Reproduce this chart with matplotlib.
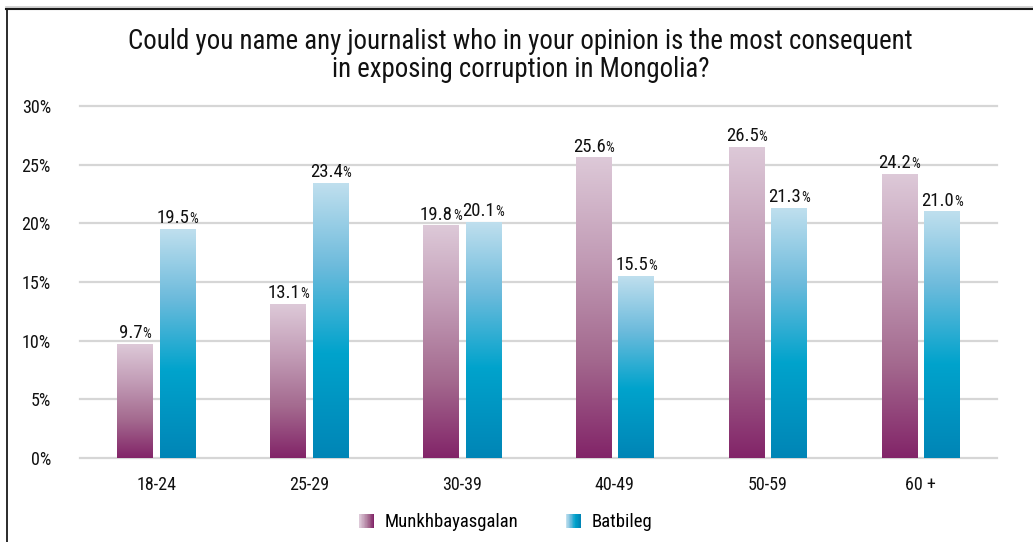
import numpy as np
import matplotlib
matplotlib.use("Agg")
import matplotlib.pyplot as plt
from matplotlib.colors import LinearSegmentedColormap
from matplotlib.patches import Rectangle
from matplotlib.lines import Line2D
from matplotlib.legend_handler import HandlerBase
from matplotlib.offsetbox import TextArea, HPacker, AnnotationBbox

plt.rcParams['font.family'] = ['Roboto Condensed', 'Archivo Narrow', 'DejaVu Sans']

# Data
age_groups = ["18-24", "25-29", "30-39", "40-49", "50-59", "60 +"]
munkhbayasgalan = [9.7, 13.1, 19.8, 25.6, 26.5, 24.2]
batbileg = [19.5, 23.4, 20.1, 15.5, 21.3, 21.0]
series_names = ["Munkhbayasgalan", "Batbileg"]
y_ticks = [0, 5, 10, 15, 20, 25, 30]
title = "Could you name any journalist who in your opinion is the most consequent\nin exposing corruption in Mongolia?"

# Vertical gradients (bottom -> top)
purple_cmap = LinearSegmentedColormap.from_list(
    "purple", ["#822468", "#a46a8f", "#c29cb6", "#ddc9d8"])
blue_cmap = LinearSegmentedColormap.from_list(
    "blue", [(0.0, "#0085b6"), (0.38, "#00a3cc"), (0.7, "#6dbbdc"), (1.0, "#bfdfee")])

fig = plt.figure(figsize=(10.33, 5.42), dpi=100)
ax = fig.add_axes([0.0774, 0.155, 0.8877, 0.6494])

x = np.arange(len(age_groups))
width = 0.232
offset = 0.139

grad = np.linspace(0, 1, 256).reshape(-1, 1)


def gradient_bars(positions, values, cmap):
    bars = ax.bar(positions, values, width, color="none", edgecolor="none", zorder=3)
    for rect in bars:
        x0 = rect.get_x()
        x1 = x0 + rect.get_width()
        h = rect.get_height()
        ax.imshow(grad, cmap=cmap, origin="lower", aspect="auto",
                  extent=(x0, x1, 0, h), zorder=3, interpolation="bilinear")
    return bars


gradient_bars(x - offset, munkhbayasgalan, purple_cmap)
gradient_bars(x + offset, batbileg, blue_cmap)


def value_label(xpos, val):
    num = TextArea(f"{val:.1f}", textprops=dict(fontsize=13.5, color="#111111"))
    pct = TextArea("%", textprops=dict(fontsize=10, color="#111111"))
    box = HPacker(children=[num, pct], align="baseline", pad=0, sep=0)
    ab = AnnotationBbox(box, (xpos, val), xybox=(0, 1.5), xycoords="data",
                        boxcoords="offset points", box_alignment=(0.5, 0),
                        frameon=False, pad=0, annotation_clip=False)
    ax.add_artist(ab)


for xi, v in zip(x - offset, munkhbayasgalan):
    value_label(xi, v)
for xi, v in zip(x + offset, batbileg):
    value_label(xi, v)

ax.set_xlim(-0.5, len(age_groups) - 0.5)
ax.set_ylim(0, 30)
ax.set_yticks(y_ticks)
ax.set_yticklabels([f"{t}%" for t in y_ticks], fontsize=13, color="#111111")
ax.set_xticks(x)
ax.set_xticklabels(age_groups, fontsize=13, color="#111111")
ax.tick_params(axis="y", length=0, pad=21)
ax.tick_params(axis="x", length=0, pad=13)
ax.yaxis.grid(True, color="#d6d6d6", linewidth=1.6, zorder=0)
for gl in ax.get_ygridlines():
    gl.set_clip_on(False)
ax.set_axisbelow(True)
for s in ax.spines.values():
    s.set_visible(False)

fig.suptitle(title, fontsize=19.4, x=0.504, y=0.948, color="#111111", linespacing=1.05)


# Legend with horizontal gradient swatches
class GradientHandler(HandlerBase):
    def __init__(self, cmap):
        super().__init__()
        self.cmap = cmap

    def create_artists(self, legend, orig_handle, xdescent, ydescent,
                       width, height, fontsize, trans):
        n = 24
        side = height * 1.1
        x0 = width - side
        y0 = (height - side) / 2
        arts = []
        for i in range(n):
            c = self.cmap(1 - i / (n - 1))
            r = Rectangle((x0 + i * side / n - xdescent, y0 - ydescent), side / n * 1.05, side,
                          facecolor=c, edgecolor="none", transform=trans)
            arts.append(r)
        return arts


h1 = Rectangle((0, 0), 1, 1)
h2 = Rectangle((0, 0), 1, 1)
fig.legend([h1, h2], series_names, loc="center", bbox_to_anchor=(0.485, 0.036),
           ncol=2, frameon=False, fontsize=13.5, handlelength=1.3, handletextpad=0.6,
           columnspacing=2.0,
           handler_map={h1: GradientHandler(purple_cmap), h2: GradientHandler(blue_cmap)})

# Page frame lines (top and left)
fig.add_artist(Line2D([6 / 1033, 1], [1 - 7 / 542, 1 - 7 / 542], transform=fig.transFigure,
                      color="#cccccc", linewidth=1.2))
fig.add_artist(Line2D([6 / 1033, 1], [1 - 9 / 542, 1 - 9 / 542], transform=fig.transFigure,
                      color="#1a1a1a", linewidth=1.5))
fig.add_artist(Line2D([7 / 1033, 7 / 1033], [0, 1 - 9 / 542], transform=fig.transFigure,
                      color="#1a1a1a", linewidth=1.3))

fig.savefig("out.png", dpi=100)
